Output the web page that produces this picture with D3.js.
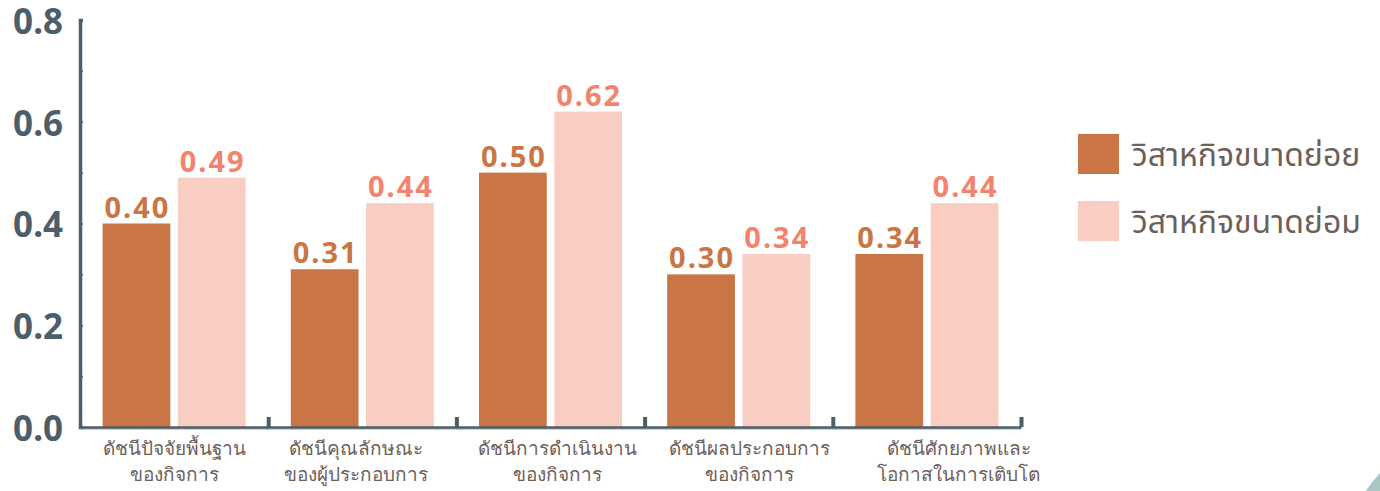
<!DOCTYPE html>
<html>
<head>
  <meta charset="utf-8">
  <title>SME index chart</title>
  <script src="https://d3js.org/d3.v7.min.js"></script>
  <style>
    body { margin: 0; background: #fff; }
    svg { display: block; font-family: "Noto Sans", "Noto Sans Thai", sans-serif; }
  </style>
</head>
<body>
  <div id="chart"></div>

  <script>
    const categories = [
      "ดัชนีปัจจัยพื้นฐาน|ของกิจการ",
      "ดัชนีคุณลักษณะ|ของผู้ประกอบการ",
      "ดัชนีการดำเนินงาน|ของกิจการ",
      "ดัชนีผลประกอบการ|ของกิจการ",
      "ดัชนีศักยภาพและ|โอกาสในการเติบโต"
    ];
    const seriesNames = ["วิสาหกิจขนาดย่อย", "วิสาหกิจขนาดย่อม"];
    const microValues = [0.40, 0.31, 0.50, 0.30, 0.34];
    const smallValues = [0.49, 0.44, 0.62, 0.34, 0.44];
    const yTicks = [0, 0.2, 0.4, 0.6, 0.8];

    const width = 1380;
    const height = 491;
    const margin = { top: 20, right: 359, bottom: 64, left: 80 };
    const colors = ["#c97545", "#f9cdc2"];
    const labelColors = ["#c97545", "#f3836e"];
    const axisColor = "#4b5e6a";
    const textColor = "#6d6059";

    const data = categories.map((c, i) => ({ cat: c, values: [microValues[i], smallValues[i]] }));

    const svg = d3.select("#chart")
      .append("svg")
      .attr("width", width)
      .attr("height", height);

    // decorative corner shape
    svg.append("circle")
      .attr("cx", 1470).attr("cy", 560).attr("r", 125)
      .attr("fill", "#a9c6c3");

    const x0 = d3.scaleBand()
      .domain(categories)
      .range([margin.left, width - margin.right])
      .paddingInner(0.24)
      .paddingOuter(0.12);

    const x1 = d3.scaleBand()
      .domain([0, 1])
      .range([0, x0.bandwidth()])
      .paddingInner(0.1);

    const y = d3.scaleLinear()
      .domain([0, 0.8])
      .range([height - margin.bottom, margin.top]);

    // bars
    const groups = svg.selectAll(".group")
      .data(data)
      .enter()
      .append("g")
      .attr("transform", d => `translate(${x0(d.cat)},0)`);

    groups.selectAll("rect")
      .data(d => d.values)
      .enter()
      .append("rect")
      .attr("x", (d, i) => x1(i))
      .attr("y", d => y(d))
      .attr("width", x1.bandwidth())
      .attr("height", d => y(0) - y(d))
      .attr("fill", (d, i) => colors[i]);

    groups.selectAll(".val")
      .data(d => d.values)
      .enter()
      .append("text")
      .attr("class", "val")
      .attr("x", (d, i) => x1(i) + x1.bandwidth() / 2 + 1)
      .attr("y", d => y(d) - 6)
      .attr("text-anchor", "middle")
      .attr("font-size", 29)
      .attr("font-weight", 700)
      .attr("letter-spacing", 2)
      .attr("fill", (d, i) => labelColors[i])
      .text(d => d.toFixed(2));

    // y axis, minor ticks every 0.1, labels on yTicks
    const yAxis = d3.axisLeft(y)
      .tickValues(d3.range(0, 0.81, 0.1))
      .tickSize(-3)
      .tickFormat(d => yTicks.some(t => Math.abs(t - d) < 1e-6) ? d3.format(".1f")(d) : "");

    const gy = svg.append("g")
      .attr("transform", `translate(${margin.left},0)`)
      .call(yAxis);
    gy.select(".domain").attr("stroke", axisColor).attr("stroke-width", 3.5);
    gy.selectAll(".tick line").attr("stroke", axisColor).attr("stroke-width", 1.5);
    gy.selectAll(".tick text")
      .attr("x", -17)
      .attr("dy", "0.38em")
      .attr("fill", axisColor)
      .attr("font-size", 35)
      .attr("font-weight", 700)
      .attr("font-family", "Noto Sans, sans-serif");

    // x axis: boundary ticks
    const xb = d3.scaleLinear()
      .domain([0, categories.length])
      .range([margin.left, width - margin.right]);

    svg.append("line")
      .attr("x1", margin.left).attr("x2", width - margin.right)
      .attr("y1", y(0) + 2).attr("y2", y(0) + 2)
      .attr("stroke", "#b3bec2").attr("stroke-width", 1.5);

    const gxb = svg.append("g")
      .attr("transform", `translate(0,${y(0)})`)
      .call(d3.axisBottom(xb).tickValues(d3.range(1, categories.length + 1)).tickSize(-10).tickSizeOuter(0).tickFormat(""));
    gxb.select(".domain").attr("stroke", axisColor).attr("stroke-width", 2.5);
    gxb.selectAll(".tick line").attr("stroke", axisColor).attr("stroke-width", 4);

    // category labels
    const labelShift = [0, -6, 7, 11, 32];
    const gx = svg.append("g")
      .attr("transform", `translate(0,${y(0)})`)
      .call(d3.axisBottom(x0).tickSize(0).tickFormat(""));
    gx.select(".domain").remove();
    gx.selectAll(".tick").each(function (d, i) {
      const t = d3.select(this).append("text")
        .attr("text-anchor", "middle")
        .attr("fill", textColor)
        .attr("font-size", 19)
        .attr("x", labelShift[i]);
      d.split("|").forEach((line, k) => {
        t.append("tspan")
          .attr("x", labelShift[i])
          .attr("y", 28 + k * 26)
          .text(line);
      });
    });

    // legend
    const legend = svg.append("g")
      .attr("transform", "translate(1078,134)");
    seriesNames.forEach((name, i) => {
      const row = legend.append("g").attr("transform", `translate(0,${i * 67})`);
      row.append("rect")
        .attr("width", 41).attr("height", 40)
        .attr("fill", colors[i]);
      row.append("text")
        .attr("x", 54)
        .attr("y", 32)
        .attr("font-size", 32)
        .attr("fill", textColor)
        .text(name);
    });
  </script>
</body>
</html>
